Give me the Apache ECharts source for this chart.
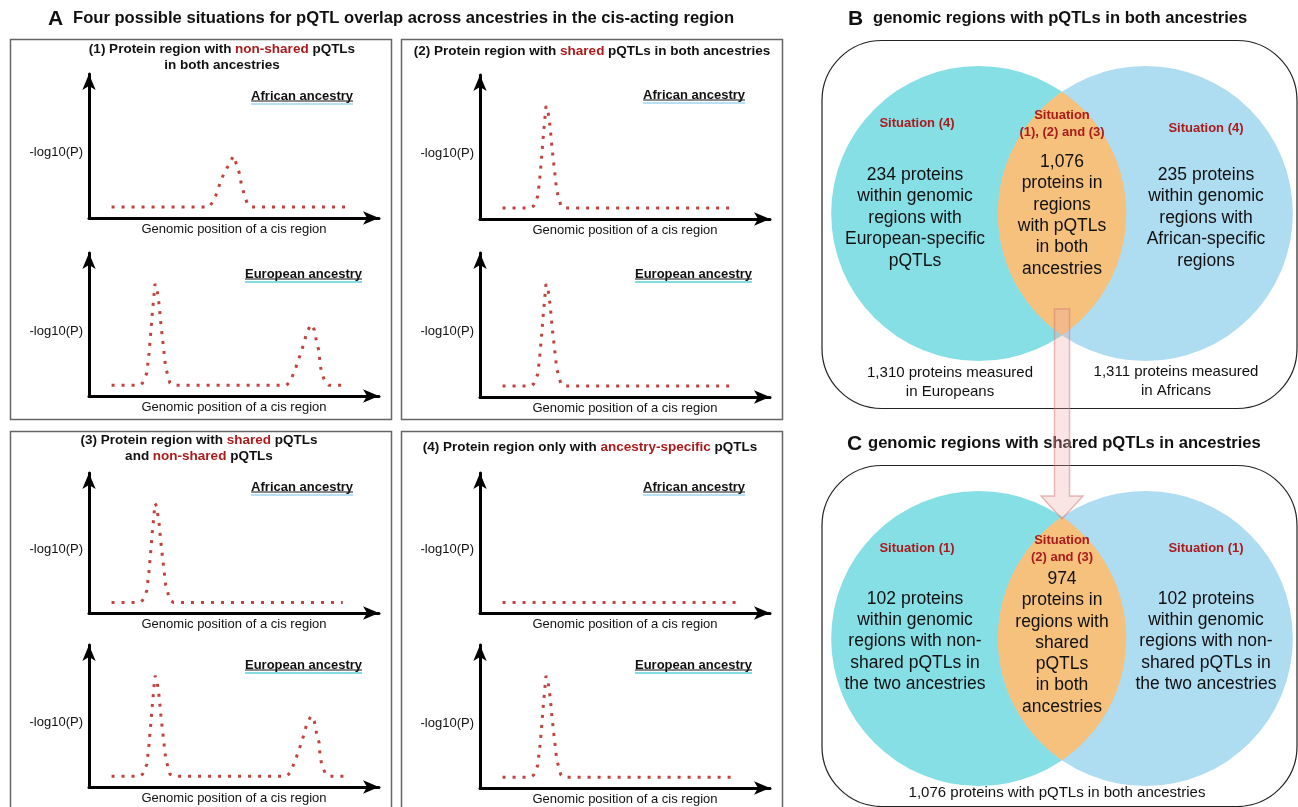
<!DOCTYPE html>
<html><head><meta charset="utf-8">
<script src="https://cdn.jsdelivr.net/npm/echarts@6/dist/echarts.min.js"></script>
<style>html,body{margin:0;padding:0;background:#fff}#c{width:1298px;height:807px}</style>
</head><body><div id="c"></div>
<script>
// ---------------- DATA ----------------
// -log10(P) curves along a cis region (x: relative genomic position 0-100, y: relative -log10(P) 0-100)
const nonSharedAfrican = [[8,8],[42.5,8],[43.6,11],[45.3,18],[46.5,26],[47.9,33],[49.4,38.5],[51.2,45.6],[52.4,39],[53.3,33],[54.1,24],[55,17.6],[56.1,10.8],[57.5,8],[91.5,8]];
const twoPeakEuropean = [[8,8],[18,8],[19,9.6],[20.5,17],[21.3,32],[21.9,47],[22.4,60],[22.8,69],[23.4,83],[24,81],[24.9,67],[25.5,53],[26.3,38],[27.2,21],[28.7,9.6],[30,8],[70,8],[71.3,10.6],[73,19],[74.8,30],[76.2,39],[77.2,47],[78.7,53],[79.9,49],[80.7,40],[81.6,33],[81.9,24],[82.5,17],[83.7,10.6],[85,8],[91,8]];
const sharedPeakOnly = [[8,8],[18,8],[19,9.6],[20.5,17],[21.3,32],[21.9,47],[22.4,60],[22.8,69],[23.4,83],[24,81],[24.9,67],[25.5,53],[26.3,38],[27.2,21],[28.7,9.6],[30,8],[90,8]];
const flatOnly = [[8,8],[91,8]];
const peakNames = ['pQTL 1', 'pQTL 2', 'pQTL 3'];
const peakPositions = [23.4, 51.2, 78.7];

const situationTitles = [
  ['(1) Protein region with ', 'non-shared', ' pQTLs', 'in both ancestries'],
  ['(2) Protein region with ', 'shared', ' pQTLs in both ancestries', ''],
  ['(3) Protein region with ', 'shared', ' pQTLs', 'and |non-shared| pQTLs'],
  ['(4) Protein region only with ', 'ancestry-specific', ' pQTLs', '']
];
const ancestries = ['African ancestry', 'European ancestry'];

// Venn counts
const countsB = [234, 1076, 235];
const measuredB = [1310, 1311];
const countsC = [102, 974, 102];
const totalC = 1076;
const vennCenters = [-0.565, 0.565];

// ---------------- LAYOUT ----------------
const FONT = "'Liberation Sans', Arial, Helvetica, sans-serif";
const RED = '#c0433f';
const DARKRED = '#aa1c1c';
const GW = 290;        // axis length incl. arrow
const XMAX = 100 * 290 / 282;
// [axis x, arrow tip y, x-axis y, dataset, labels [peakIndex, offsetX, distance], ancestry idx, label right x, label y]
const panels = [
  [89, 74, 218, nonSharedAfrican, [[1, 0, 8]], 0, 353, 96],
  [89, 253, 396, twoPeakEuropean, [[0, 6, 2], [2, 7, 9]], 1, 362, 274],
  [480, 75, 219, sharedPeakOnly, [[0, -6, 2]], 0, 745, 95],
  [480, 253, 397, sharedPeakOnly, [[0, 5, 2]], 1, 752, 274],
  [89, 473, 613, sharedPeakOnly, [[0, -5, 2]], 0, 353, 487],
  [89, 645, 787, twoPeakEuropean, [[0, 6, 2], [2, 7, 9]], 1, 362, 665],
  [480, 473, 613, flatOnly, [], 0, 745, 487],
  [480, 645, 788, sharedPeakOnly, [[0, 5, 2]], 1, 752, 665]
];

const mctx = document.createElement('canvas').getContext('2d');
function tw(str, font) { mctx.font = font; return mctx.measureText(str).width; }

const grids = [], xAxes = [], yAxes = [], series = [], graphics = [];
const axisLine = {show: true, onZero: false, symbol: ['none', 'arrow'], symbolSize: [10, 16], lineStyle: {color: '#000', width: 3}};

panels.forEach((p, i) => {
  const h = p[2] - p[1];
  grids.push({left: p[0], top: p[1], width: GW, height: h, containLabel: false});
  xAxes.push({gridIndex: i, type: 'value', min: 0, max: XMAX, axisLine: axisLine, axisTick: {show: false}, axisLabel: {show: false}, splitLine: {show: false},
    name: 'Genomic position of a cis region', nameLocation: 'middle', nameGap: 5,
    nameTextStyle: {fontSize: 13, color: '#111', fontFamily: FONT, verticalAlign: 'top'}});
  yAxes.push({gridIndex: i, type: 'value', min: 0, max: 100 * h / (h - 8), axisLine: axisLine, axisTick: {show: false}, axisLabel: {show: false}, splitLine: {show: false},
    name: '-log10(P)', nameLocation: 'middle', nameRotate: 0, nameGap: 6,
    nameTextStyle: {fontSize: 13, color: '#111', fontFamily: FONT, verticalAlign: 'top'}});
  const labels = p[4];
  const data = p[3].map(pt => {
    const lab = labels.find(l => peakPositions[l[0]] === pt[0]);
    if (!lab) return pt;
    return {value: pt, label: {show: true, formatter: peakNames[lab[0]], position: 'top', distance: lab[2], offset: [lab[1], 0],
      color: '#a8201e', fontSize: 13.5, fontFamily: FONT}};
  });
  series.push({type: 'line', xAxisIndex: i, yAxisIndex: i, data: data, symbol: 'circle', symbolSize: 0, showSymbol: true,
    lineStyle: {color: RED, width: 3, type: [3, 7], cap: 'butt'}, itemStyle: {color: RED, opacity: 0},
    label: {show: false}, silent: true, animation: false, z: 3, emphasis: {disabled: true}});
  // ancestry label
  const f = 'bold 13px ' + FONT;
  const txt = ancestries[p[5]];
  const w = tw(txt, f);
  graphics.push({type: 'text', x: p[6], y: p[7], style: {text: txt, font: f, fill: '#111', align: 'right', verticalAlign: 'middle'}});
  graphics.push({type: 'line', shape: {x1: p[6] - w, y1: p[7] + 5, x2: p[6], y2: p[7] + 5}, style: {stroke: '#111', lineWidth: 1}});
  graphics.push({type: 'line', shape: {x1: p[6] - w, y1: p[7] + 8, x2: p[6], y2: p[7] + 8}, style: {stroke: p[5] === 0 ? '#9fd3ef' : '#5ccfd8', lineWidth: 1.6}});
});

// Boxes of panel A
[[10.5, 39.5], [401.5, 39.5], [10.5, 431.5], [401.5, 431.5]].forEach(b => {
  graphics.push({type: 'rect', shape: {x: b[0], y: b[1], width: 381, height: b[1] > 400 ? 390 : 380}, style: {fill: 'none', stroke: '#666', lineWidth: 1.5}});
});
// Situation subtitles
const subPos = [[222, 57, 16], [592, 51, 16], [199, 448, 16], [590, 447, 16]];
situationTitles.forEach((t, i) => {
  let l2 = t[3];
  if (l2.indexOf('|') >= 0) {
    const parts = l2.split('|');
    l2 = '{b|' + parts[0] + '}{r|' + parts[1] + '}{b|' + parts[2] + '}';
  } else if (l2) { l2 = '{b|' + l2 + '}'; }
  const txt = '{b|' + t[0] + '}{r|' + t[1] + '}{b|' + t[2] + '}' + (l2 ? '\n' + l2 : '');
  graphics.push({type: 'text', x: subPos[i][0], y: subPos[i][1], style: {text: txt, align: 'center', verticalAlign: 'middle',
    rich: {b: {font: 'bold 13.5px ' + FONT, fill: '#111', lineHeight: subPos[i][2]}, r: {font: 'bold 13.5px ' + FONT, fill: DARKRED, lineHeight: subPos[i][2]}}}});
});

// Titles
function title(letter, lx, ly, txt, tx, ty) {
  graphics.push({type: 'text', x: lx, y: ly, style: {text: letter, font: 'bold 21px ' + FONT, fill: '#111', align: 'left', verticalAlign: 'middle'}});
  graphics.push({type: 'text', x: tx, y: ty, style: {text: txt, font: 'bold 16.6px ' + FONT, fill: '#111', align: 'left', verticalAlign: 'middle'}});
}
title('A', 48, 19, 'Four possible situations for pQTL overlap across ancestries in the cis-acting region', 73, 18);
title('B', 848, 19, 'genomic regions with pQTLs in both ancestries', 873, 18);
title('C', 847, 444, 'genomic regions with shared pQTLs in ancestries', 868, 443);

// Rounded frames for Venns
graphics.push({type: 'rect', shape: {x: 822, y: 40.5, width: 475, height: 368, r: 60}, style: {fill: 'none', stroke: '#222', lineWidth: 1.2}, z: 1});
graphics.push({type: 'rect', shape: {x: 822, y: 465.5, width: 475, height: 341, r: 60}, style: {fill: 'none', stroke: '#222', lineWidth: 1.2}, z: 1});

// Venn grids (custom series)
const vennColors = ['#86dfe5', '#aedcf1', '#f5c17c'];
const vennGrids = [51.5, 476.5];
vennGrids.forEach((top, k) => {
  const gi = grids.length;
  grids.push({left: 826, top: top, width: 472, height: 324});
  xAxes.push({gridIndex: gi, type: 'value', min: -1.6, max: 1.6, show: false});
  yAxes.push({gridIndex: gi, type: 'value', min: -1.1, max: 1.1, show: false});
  series.push({type: 'custom', xAxisIndex: gi, yAxisIndex: gi, silent: true, animation: false, clip: false, z: 2,
    encode: {x: 0, y: 1},
    data: [[vennCenters[0], 0, 1, 0], [vennCenters[1], 0, 1, 1], [0, 0, 1, 2]],
    renderItem: function (params, api) {
      const kind = api.value(3);
      const r = api.size([1, 0])[0];
      const c0 = api.coord([vennCenters[0], 0]);
      const c1 = api.coord([vennCenters[1], 0]);
      if (kind < 2) {
        const c = api.coord([api.value(0), api.value(1)]);
        return {type: 'circle', shape: {cx: c[0], cy: c[1], r: r}, style: {fill: vennColors[kind]}};
      }
      const d = c1[0] - c0[0];
      const hh = Math.sqrt(r * r - d * d / 4);
      const th = Math.atan2(hh, d / 2);
      const pts = [];
      for (let j = 0; j <= 60; j++) { const a = -th + 2 * th * j / 60; pts.push([c0[0] + r * Math.cos(a), c0[1] + r * Math.sin(a)]); }
      for (let j = 0; j <= 60; j++) { const a = Math.PI - th + 2 * th * j / 60; pts.push([c1[0] + r * Math.cos(a), c1[1] + r * Math.sin(a)]); }
      return {type: 'polygon', shape: {points: pts}, style: {fill: vennColors[2]}};
    }
  });
});

function fmt(n) { return n.toLocaleString('en-US'); }
function vtext(x, y, txt, opts) {
  graphics.push({type: 'text', x: x, y: y, z: 5, style: Object.assign({text: txt, font: '17.5px ' + FONT, fill: '#111', align: 'center', verticalAlign: 'middle', lineHeight: 21.4}, opts || {})});
}
const sit = {font: 'bold 13px ' + FONT, fill: DARKRED, lineHeight: 17};
// B texts
vtext(917, 123, 'Situation (4)', sit);
vtext(1062, 123.5, 'Situation\n(1), (2) and (3)', sit);
vtext(1206, 128, 'Situation (4)', sit);
vtext(915, 218, countsB[0] + ' proteins\nwithin genomic\nregions with\nEuropean-specific\npQTLs', {lineHeight: 21.5});
vtext(1062, 215.5, fmt(countsB[1]) + '\nproteins in\nregions\nwith pQTLs\nin both\nancestries');
vtext(1206, 218, countsB[2] + ' proteins\nwithin genomic\nregions with\nAfrican-specific\nregions', {lineHeight: 21.5});
vtext(950, 382.5, fmt(measuredB[0]) + ' proteins measured\nin Europeans', {font: '15px ' + FONT, lineHeight: 19});
vtext(1176, 381.5, fmt(measuredB[1]) + ' proteins measured\nin Africans', {font: '15px ' + FONT, lineHeight: 19});
// C texts
vtext(917, 548, 'Situation (1)', sit);
vtext(1062, 548.5, 'Situation\n(2) and (3)', sit);
vtext(1206, 548, 'Situation (1)', sit);
vtext(915, 641.5, countsC[0] + ' proteins\nwithin genomic\nregions with non-\nshared pQTLs in\nthe two ancestries', {lineHeight: 21.25});
vtext(1062, 643, countsC[1] + '\nproteins in\nregions with\nshared\npQTLs\nin both\nancestries', {lineHeight: 21.3});
vtext(1206, 641.5, countsC[2] + ' proteins\nwithin genomic\nregions with non-\nshared pQTLs in\nthe two ancestries', {lineHeight: 21.25});
vtext(1057, 793, fmt(totalC) + ' proteins with pQTLs in both ancestries', {font: '15px ' + FONT});

// Arrow from B intersection to C intersection
graphics.push({type: 'polygon', z: 10, shape: {points: [[1054.5, 309], [1069.5, 309], [1069.5, 496], [1083, 496], [1062, 519], [1041, 496], [1054.5, 496]]},
  style: {fill: 'rgba(240,170,170,0.3)', stroke: 'rgba(214,120,120,0.5)', lineWidth: 1.5}});

const chart = echarts.init(document.getElementById('c'), null, {renderer: 'canvas'});
chart.setOption({
  animation: false,
  backgroundColor: '#fff',
  grid: grids, xAxis: xAxes, yAxis: yAxes, series: series,
  graphic: {elements: graphics}
});
</script></body></html>
